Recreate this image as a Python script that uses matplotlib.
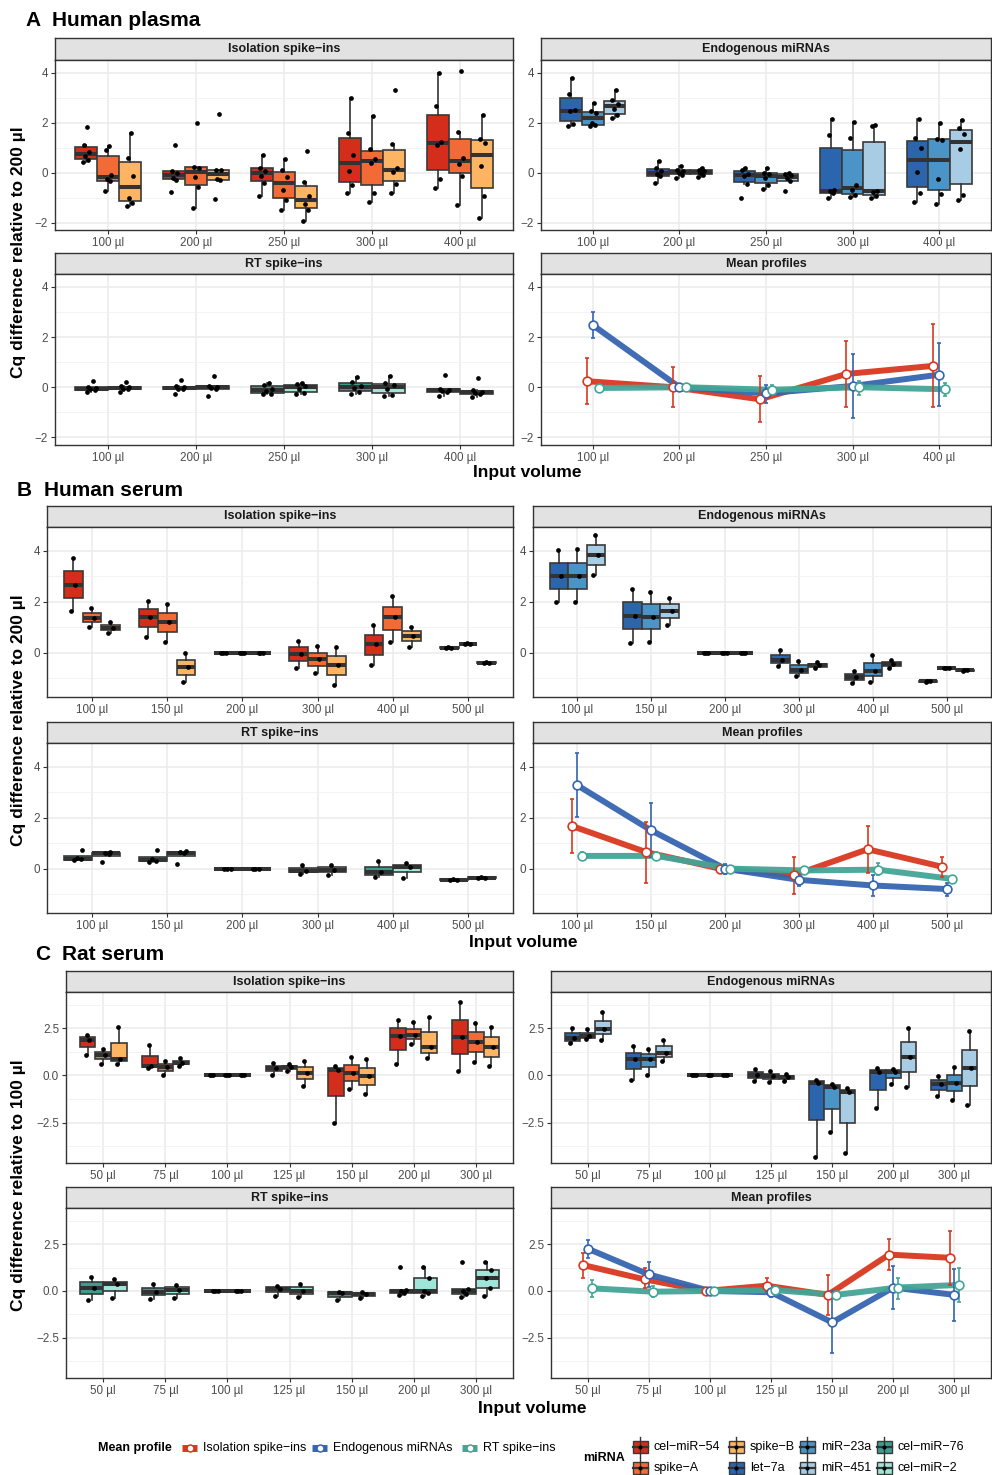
import numpy as np
import matplotlib
matplotlib.use("Agg")
import matplotlib.pyplot as plt
from matplotlib.patches import Rectangle

plt.rcParams['font.family'] = ['Liberation Sans', 'DejaVu Sans']

W, H = 992, 1475

mirna_names = ["cel−miR−54", "spike−A", "spike−B", "let−7a", "miR−23a", "miR−451", "cel−miR−76", "cel−miR−2"]
mirna_colors = ["#D42D1C", "#F26B36", "#FDB564", "#2B65AE", "#4A94C8", "#A7CCE4", "#3C9C8D", "#A0E6D8"]
profile_names = ["Isolation spike−ins", "Endogenous miRNAs", "RT spike−ins"]
profile_colors = ["#D93820", "#3565B0", "#43A597"]

# ---------------- A: human plasma (replicate values per volume)
plasma_vols = ["100 µl", "200 µl", "250 µl", "300 µl", "400 µl"]
plasma_cel54 = [[0.42, 0.5, 0.68, 0.82, 1.1, 1.83], [-0.76, -0.3, -0.2, 0.0, 0.06, 1.1],
                [-0.93, -0.4, -0.13, 0.07, 0.2, 0.7], [-0.8, -0.5, 0.05, 0.69, 1.6, 3.0],
                [-0.6, -0.25, 1.1, 1.24, 2.65, 4.0]]
plasma_spikeA = [[-0.72, -0.35, -0.25, -0.1, 0.9, 1.05], [-1.43, -0.59, -0.19, 0.2, 0.22, 2.0],
                 [-1.5, -1.1, -0.7, -0.16, 0.1, 0.53], [-1.16, -0.8, 0.4, 0.56, 0.95, 2.28],
                 [-1.28, -0.12, 0.35, 0.59, 1.62, 4.07]]
plasma_spikeB = [[-1.33, -1.2, -1.0, -0.12, 0.6, 1.57], [-1.05, -0.3, -0.25, 0.1, 0.12, 2.36],
                 [-1.93, -1.5, -1.25, -0.95, -0.38, 0.88], [-0.8, -0.45, 0.02, 0.2, 1.15, 3.32],
                 [-1.83, -0.92, 0.27, 1.17, 1.35, 2.31]]
plasma_let7a = [[1.87, 1.95, 2.45, 2.51, 3.15, 3.77], [-0.43, -0.15, -0.05, 0.05, 0.2, 0.45],
                [-1.03, -0.45, -0.15, -0.07, 0.1, 0.2], [-1.0, -0.83, -0.75, -0.69, 1.52, 2.13],
                [-1.17, -0.8, 0.02, 1.0, 1.38, 2.13]]
plasma_mir23a = [[1.87, 1.89, 2.0, 2.4, 2.45, 2.8], [-0.22, -0.1, 0.0, 0.05, 0.1, 0.25],
                 [-0.65, -0.5, -0.2, -0.05, -0.03, 0.17], [-0.97, -0.9, -0.7, -0.5, 1.37, 2.03],
                 [-1.27, -0.85, -0.27, 1.31, 1.36, 2.0]]
plasma_mir451 = [[2.2, 2.3, 2.55, 2.75, 2.9, 3.3], [-0.17, -0.1, 0.0, 0.05, 0.1, 0.2],
                 [-0.72, -0.35, -0.22, -0.1, -0.05, 0.0], [-1.0, -0.92, -0.78, -0.72, 1.88, 1.9],
                 [-1.1, -0.9, 0.93, 1.53, 1.78, 2.1]]
plasma_cel76 = [[-0.2, -0.1, -0.08, -0.04, 0.0, 0.25], [-0.27, -0.08, -0.05, -0.01, 0.03, 0.3],
                [-0.28, -0.25, -0.15, -0.05, 0.08, 0.15], [-0.28, -0.2, -0.02, 0.05, 0.2, 0.4],
                [-0.35, -0.2, -0.15, -0.1, -0.05, 0.48]]
plasma_cel2 = [[-0.2, -0.07, -0.05, -0.01, 0.03, 0.2], [-0.33, -0.06, -0.03, 0.01, 0.05, 0.45],
               [-0.28, -0.22, -0.05, 0.05, 0.12, 0.15], [-0.35, -0.3, -0.05, 0.1, 0.15, 0.45],
               [-0.38, -0.28, -0.22, -0.18, -0.12, 0.35]]
plasma_mean = [[0.24, 0.0, -0.48, 0.53, 0.85], [2.47, 0.0, -0.24, 0.05, 0.5], [-0.03, 0.0, -0.1, 0.0, -0.08]]
plasma_low = [[-0.68, -0.8, -1.37, -0.8, -0.8], [1.95, -0.1, -0.64, -1.24, -0.76], [-0.08, -0.12, -0.25, -0.29, -0.33]]
plasma_high = [[1.16, 0.8, 0.44, 1.84, 2.51], [3.0, 0.1, 0.1, 1.31, 1.76], [0.02, 0.12, 0.1, 0.24, 0.16]]

# ---------------- B: human serum
serum_vols = ["100 µl", "150 µl", "200 µl", "300 µl", "400 µl", "500 µl"]
serum_cel54 = [[1.64, 2.67, 3.7], [0.6, 1.39, 2.04], [0, 0, 0], [-0.62, -0.04, 0.46], [-0.49, 0.33, 1.09], [0.19, 0.2, 0.21]]
serum_spikeA = [[1.0, 1.37, 1.74], [0.43, 1.22, 1.92], [0, 0, 0], [-0.81, -0.26, 0.26], [0.43, 1.38, 2.23], [0.34, 0.35, 0.36]]
serum_spikeB = [[0.76, 0.98, 1.2], [-1.17, -0.58, -0.02], [0, 0, 0], [-1.27, -0.49, 0.21], [0.24, 0.67, 1.0], [-0.4, -0.39, -0.38]]
serum_let7a = [[2.0, 3.02, 4.03], [0.37, 1.45, 2.51], [0, 0, 0], [-0.52, -0.27, 0.12], [-1.18, -0.94, -0.71], [-1.14, -1.13, -1.12]]
serum_mir23a = [[1.97, 3.02, 4.05], [0.43, 1.4, 2.38], [0, 0, 0], [-0.9, -0.67, -0.31], [-1.14, -0.72, -0.09], [-0.61, -0.6, -0.59]]
serum_mir451 = [[3.03, 3.83, 4.6], [1.08, 1.63, 2.16], [0, 0, 0], [-0.61, -0.48, -0.38], [-0.61, -0.44, -0.3], [-0.71, -0.7, -0.69]]
serum_cel76 = [[0.32, 0.37, 0.42, 0.73], [0.25, 0.3, 0.36, 0.75], [0, 0, 0], [-0.22, -0.08, 0.15], [-0.32, -0.15, 0.3], [-0.44, -0.43, -0.42]]
serum_cel2 = [[0.28, 0.58, 0.62, 0.66], [0.2, 0.6, 0.64, 0.68], [0, 0, 0], [-0.25, -0.05, 0.15], [-0.35, 0.08, 0.22], [-0.36, -0.35, -0.34]]
serum_mean = [[1.67, 0.65, 0.0, -0.26, 0.76, 0.08], [3.27, 1.5, 0.0, -0.44, -0.66, -0.8], [0.5, 0.5, 0.0, -0.07, -0.04, -0.4]]
serum_low = [[0.6, -0.55, 0.0, -0.99, -0.18, -0.31], [2.01, 0.44, -0.2, -0.7, -1.07, -1.07], [0.35, 0.35, 0.0, -0.17, -0.26, -0.47]]
serum_high = [[2.74, 1.84, 0.0, 0.44, 1.68, 0.44], [4.54, 2.58, 0.2, -0.2, -0.26, -0.55], [0.65, 0.65, 0.0, 0.03, 0.23, -0.33]]

# ---------------- C: rat serum
rat_vols = ["50 µl", "75 µl", "100 µl", "125 µl", "150 µl", "200 µl", "300 µl"]
rat_cel54 = [[1.1, 1.9, 2.15], [0.39, 0.48, 1.61], [0, 0, 0], [0.04, 0.39, 0.66], [-2.5, 0.3, 0.48], [0.62, 2.07, 2.93], [0.21, 2.04, 3.88]]
rat_spikeA = [[0.6, 1.1, 1.4], [0.04, 0.44, 0.74], [0, 0, 0], [0.21, 0.43, 0.62], [-0.71, 0.12, 0.98], [1.68, 2.15, 2.82], [0.73, 1.79, 2.78]]
rat_spikeB = [[0.6, 0.89, 2.55], [0.51, 0.66, 0.9], [0, 0, 0], [-0.55, 0.12, 0.74], [-0.98, -0.05, 0.89], [0.9, 1.51, 3.1], [0.48, 1.51, 2.57]]
rat_let7a = [[1.72, 1.98, 2.5], [-0.23, 0.87, 1.54], [0, 0, 0], [-0.27, 0.04, 0.34], [-4.31, -0.41, -0.23], [-1.74, 0.16, 0.39], [-1.08, -0.44, -0.02]]
rat_mir23a = [[1.93, 2.07, 2.46], [0.04, 0.87, 1.4], [0, 0, 0], [-0.37, -0.05, 0.21], [-2.98, -0.59, -0.47], [-0.45, 0.2, 0.36], [-1.29, -0.41, 0.44]]
rat_mir451 = [[1.9, 2.46, 3.35], [0.74, 1.19, 1.9], [0, 0, 0], [-0.28, -0.09, 0.05], [-4.13, -0.87, -0.65], [-0.59, 0.98, 2.52], [-1.56, 0.41, 2.34]]
rat_cel76 = [[-0.48, 0.18, 0.74], [-0.44, -0.04, 0.35], [0, 0, 0], [-0.25, 0.1, 0.28], [-0.48, -0.12, -0.04],
             [-0.21, -0.1, 0.0, 0.05, 1.27], [-0.32, -0.15, 0.0, 0.1, 1.55]]
rat_cel2 = [[-0.39, 0.35, 0.62], [-0.39, 0.05, 0.32], [0, 0, 0], [-0.3, 0.0, 0.39], [-0.39, -0.16, -0.04],
            [-0.25, -0.12, 0.0, 0.67, 1.27], [-0.27, 0.14, 0.67, 1.1, 1.52]]
rat_mean = [[1.38, 0.62, 0.0, 0.28, -0.21, 1.94, 1.77], [2.26, 0.88, 0.0, -0.07, -1.68, 0.18, -0.21], [0.14, -0.04, 0.0, 0.04, -0.21, 0.18, 0.32]]
rat_low = [[0.71, 0.18, 0.0, -0.04, -1.27, 1.11, 0.32], [1.77, 0.23, 0.0, -0.3, -3.34, -0.95, -1.63], [-0.32, -0.34, 0.0, -0.06, -0.31, -0.42, -0.57]]
rat_high = [[2.03, 1.24, 0.0, 0.71, 0.85, 2.79, 3.22], [2.7, 1.55, 0.0, 0.23, 0.0, 1.34, 1.17], [0.58, 0.26, 0.0, 0.14, -0.11, 0.71, 1.2]]

sections = [
    dict(tag="A", title="Human plasma", tag_x=25, title_x=52, title_y=20, vols=plasma_vols,
         iso=[plasma_cel54, plasma_spikeA, plasma_spikeB], endo=[plasma_let7a, plasma_mir23a, plasma_mir451],
         rt=[plasma_cel76, plasma_cel2], mean=plasma_mean, low=plasma_low, high=plasma_high,
         xl=(55, 513), xr=(541, 991), top=(38, 60, 230), bot=(253, 274, 445), ylim=(-2.3, 4.51),
         yticks=[-2, 0, 2, 4], ylabs=["−2", "0", "2", "4"], minor=[-1, 1, 3],
         ylabel="Cq difference relative to 200 µl", xlab_x=527, xlab_y=473),
    dict(tag="B", title="Human serum", tag_x=17, title_x=44, title_y=490, vols=serum_vols,
         iso=[serum_cel54, serum_spikeA, serum_spikeB], endo=[serum_let7a, serum_mir23a, serum_mir451],
         rt=[serum_cel76, serum_cel2], mean=serum_mean, low=serum_low, high=serum_high,
         xl=(47, 513), xr=(533, 991), top=(506, 527, 697), bot=(722, 743, 913), ylim=(-1.74, 4.93),
         yticks=[0, 2, 4], ylabs=["0", "2", "4"], minor=[-1, 1, 3],
         ylabel="Cq difference relative to 200 µl", xlab_x=523, xlab_y=943),
    dict(tag="C", title="Rat serum", tag_x=35, title_x=62, title_y=955, vols=rat_vols,
         iso=[rat_cel54, rat_spikeA, rat_spikeB], endo=[rat_let7a, rat_mir23a, rat_mir451],
         rt=[rat_cel76, rat_cel2], mean=rat_mean, low=rat_low, high=rat_high,
         xl=(66, 513), xr=(551, 991), top=(971, 992, 1163), bot=(1187, 1208, 1378), ylim=(-4.65, 4.43),
         yticks=[-2.5, 0, 2.5], ylabs=["−2.5", "0.0", "2.5"], minor=[-3.75, -1.25, 1.25, 3.75],
         ylabel="Cq difference relative to 100 µl", xlab_x=532, xlab_y=1408),
]

jit = np.array([-0.14, 0.1, -0.04, 0.15, -0.1, 0.05, 0.0])
edge = "#333333"

fig = plt.figure(figsize=(W / 100, H / 100), dpi=100)


def px_axes(x0, y0, x1, y1):
    return fig.add_axes([x0 / W, 1 - y1 / H, (x1 - x0) / W, (y1 - y0) / H])


def facet(xs, row, title, s):
    x0, x1 = xs
    ys, yp, yb = row
    st = px_axes(x0, ys, x1, yp)
    st.set_facecolor("#E2E2E2")
    st.set_xticks([])
    st.set_yticks([])
    for sp in st.spines.values():
        sp.set_color(edge)
        sp.set_linewidth(1.0)
    st.text(0.5, 0.5, title, transform=st.transAxes, ha="center", va="center",
            fontsize=9, fontweight="bold", color="#1A1A1A")
    ax = px_axes(x0, yp, x1, yb)
    n = len(s["vols"])
    ax.set_xlim(0.4, n + 0.6)
    ax.set_ylim(*s["ylim"])
    ax.set_xticks(np.arange(1, n + 1))
    ax.set_xticklabels(s["vols"])
    ax.set_yticks(s["yticks"])
    ax.set_yticklabels(s["ylabs"])
    ax.set_yticks(s["minor"], minor=True)
    ax.grid(which="major", color="#EBEBEB", lw=1.1)
    ax.grid(which="minor", axis="y", color="#F1F1F1", lw=0.6)
    ax.set_axisbelow(True)
    for sp in ax.spines.values():
        sp.set_color(edge)
        sp.set_linewidth(1.0)
    ax.tick_params(which="major", length=3, width=0.8, color=edge, labelsize=8.4,
                   labelcolor="#4D4D4D", pad=2)
    ax.tick_params(which="minor", length=0)
    return ax


def draw_boxes(ax, series, colors):
    k = len(series)
    w = 0.75 / k
    for j, (vals, col) in enumerate(zip(series, colors)):
        pos = np.arange(1, len(vals) + 1) + (j - (k - 1) / 2) * w
        ax.boxplot(vals, positions=pos, widths=w, patch_artist=True, showfliers=False,
                   showcaps=False, whis=1.5, manage_ticks=False,
                   boxprops=dict(facecolor=col, edgecolor="#3A3A3A", linewidth=1.2),
                   medianprops=dict(color=edge, linewidth=2.9, solid_capstyle="butt"),
                   whiskerprops=dict(color=edge, linewidth=1.2))
        for p, v in zip(pos, vals):
            off = jit[:len(v)] * w
            ax.plot(p + off, v, "o", color="black", ms=3.4, mew=0, zorder=4)


def draw_means(ax, s):
    n = len(s["vols"])
    offsets = [-0.07, 0.0, 0.07]
    for m, lo, hi, col, off in zip(s["mean"], s["low"], s["high"], profile_colors, offsets):
        x = np.arange(1, n + 1) + off
        m = np.array(m)
        ax.plot(x, m, color=col, lw=4.3, alpha=0.95, zorder=3)
        ax.errorbar(x, m, yerr=[m - np.array(lo), np.array(hi) - m], fmt="none", ecolor=col,
                    elinewidth=1.2, capsize=1.6, capthick=1.2, zorder=4)
        ax.plot(x, m, "o", mfc="white", mec=col, ms=6.3, mew=1.2, zorder=5)


for s in sections:
    a1 = facet(s["xl"], s["top"], "Isolation spike−ins", s)
    draw_boxes(a1, s["iso"], mirna_colors[0:3])
    a2 = facet(s["xr"], s["top"], "Endogenous miRNAs", s)
    draw_boxes(a2, s["endo"], mirna_colors[3:6])
    a3 = facet(s["xl"], s["bot"], "RT spike−ins", s)
    draw_boxes(a3, s["rt"], mirna_colors[6:8])
    a4 = facet(s["xr"], s["bot"], "Mean profiles", s)
    draw_means(a4, s)

# overlay for titles, axis labels and legend (pixel coordinates)
ov = fig.add_axes([0, 0, 1, 1])
ov.set_xlim(0, W)
ov.set_ylim(H, 0)
ov.axis("off")
ov.patch.set_alpha(0)

for s in sections:
    ov.text(s["tag_x"], s["title_y"], s["tag"], fontsize=15, fontweight="bold", va="center")
    ov.text(s["title_x"], s["title_y"], s["title"], fontsize=15, fontweight="bold", va="center")
    yc = (s["top"][1] + s["bot"][2]) / 2
    ov.text(19, yc, s["ylabel"], rotation=90, fontsize=12.5, fontweight="bold", ha="center", va="center")
    ov.text(s["xlab_x"], s["xlab_y"], "Input volume", fontsize=12.5, fontweight="bold", ha="center", va="center")

# legend: mean profile
ly = 1447.5
ov.text(98, ly, "Mean profile", fontsize=9, fontweight="bold", va="center")
key_x = [182, 312, 462]
for name, col, kx in zip(profile_names, profile_colors, key_x):
    ov.plot([kx, kx + 15], [ly, ly], color=col, lw=5, solid_capstyle="butt")
    ov.plot([kx + 7.5], [ly], "o", mfc="white", mec=col, ms=5, mew=1.1)
    ov.text(kx + 21, ly, name, fontsize=9, va="center")

# legend: miRNA
ov.text(583, 1458, "miRNA", fontsize=9, fontweight="bold", va="center")
col_cx = [640, 736, 807, 884]
row_y = [1447, 1468]
for i, (name, col) in enumerate(zip(mirna_names, mirna_colors)):
    cx = col_cx[i // 2]
    cy = row_y[i % 2]
    ov.plot([cx, cx], [cy - 10, cy + 10], color=edge, lw=1.0)
    ov.add_patch(Rectangle((cx - 7.5, cy - 6), 15, 12, facecolor=col, edgecolor="#3A3A3A", lw=1.0))
    ov.plot([cx - 7.5, cx + 7.5], [cy, cy], color=edge, lw=1.6)
    ov.plot([cx], [cy], "o", color="black", ms=3, mew=0)
    ov.text(cx + 14, cy, name, fontsize=9, va="center")

fig.savefig("out.png", dpi=100)
